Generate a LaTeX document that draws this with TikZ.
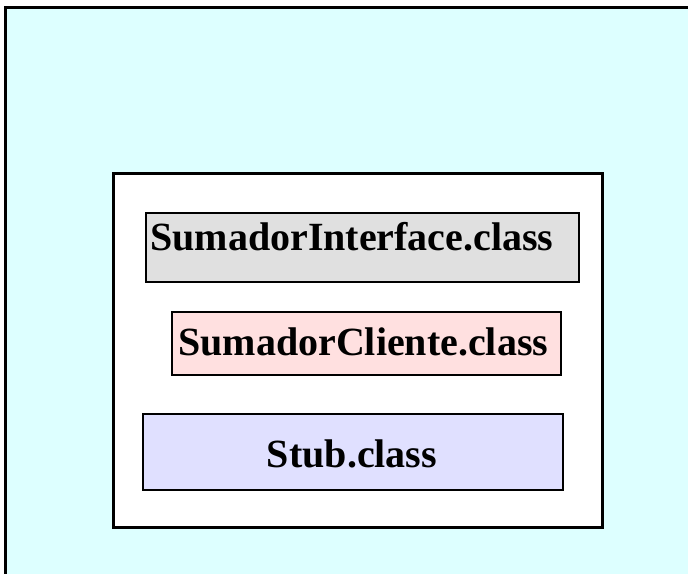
\documentclass[tikz,border=0pt]{standalone}
\usepackage{fontspec}
\setmainfont{Liberation Serif}
\usetikzlibrary{positioning}
\definecolor{fondo}{HTML}{DDFFFF}
\definecolor{gris}{HTML}{E0E0E0}
\definecolor{rosa}{HTML}{FFE0E0}
\definecolor{lila}{HTML}{E0E0FF}

\begin{document}
\begin{tikzpicture}[x=1pt,y=-1pt,
  caja/.style={draw,line width=2pt,inner sep=0pt,anchor=north west},
  rotulo/.style={font=\fontsize{40}{44}\selectfont\bfseries,inner sep=0pt}]
  \useasboundingbox (0,0) rectangle (688,573);
  \clip (0,0) rectangle (688,573);
  % marco exterior
  \draw[line width=3pt,fill=fondo] (5,7) rectangle (720,600);
  \node[caja,line width=2.5pt,fill=white,minimum width=489pt,minimum height=354pt] (C) at (112,172) {};
  % clases
  \node[caja,fill=gris,minimum width=433pt,minimum height=69pt] (I) at (145,212) {};
  \node[caja,fill=rosa,minimum width=389pt,minimum height=63pt] (SC) at (171,311) {};
  \node[caja,fill=lila,minimum width=420pt,minimum height=76pt] (S) at (142,413) {};
  \node[rotulo,anchor=base west] (tI) at (150,250) {SumadorInterface.class};
  \node[rotulo,anchor=base west] (tSC) at (178,355) {SumadorCliente.class};
  \node[rotulo,anchor=base] (tS) at (352,467) {Stub.class};
\end{tikzpicture}
\end{document}
